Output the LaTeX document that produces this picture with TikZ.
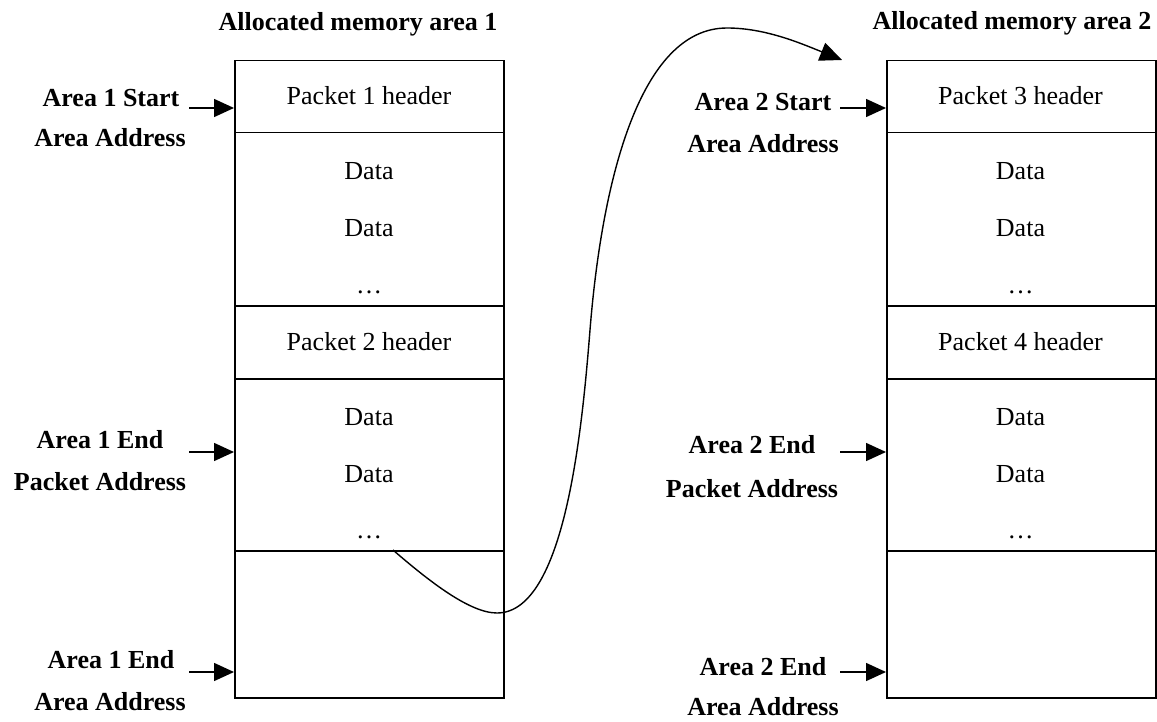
\documentclass[tikz,border=0pt]{standalone}
\usepackage{fontspec}
\setmainfont{Liberation Serif}
\usetikzlibrary{arrows.meta}
\begin{document}
\begin{tikzpicture}[x=1pt,y=-1pt,
  cell/.style={draw, line width=1.5pt, anchor=north west, inner sep=0pt, minimum width=269pt},
  txt/.style={anchor=base, inner sep=0pt, font=\fontsize{26}{30}\selectfont},
  lbl/.style={anchor=base, inner sep=0pt, font=\fontsize{26}{30}\selectfont\bfseries},
  ptr/.style={line width=1.5pt, -{Triangle[length=20pt,width=18pt]}},
  link/.style={line width=1.4pt, -{Triangle[length=22pt,width=19pt]}}
]
\useasboundingbox (0,0) rectangle (1157,722);
% titles
\node[lbl] (t1) at (358,31) {Allocated memory area 1};
\node[lbl] (t2) at (1012,30) {Allocated memory area 2};
% left box
\node[cell, minimum height=72pt]  (L1) at (234,60)  {};
\node[cell, minimum height=173pt] (L2) at (234,132) {};
\node[cell, minimum height=73pt]  (L3) at (234,305) {};
\node[cell, minimum height=172pt] (L4) at (234,378) {};
\node[cell, minimum height=147pt] (L5) at (234,550) {};
% right box
\node[cell, minimum height=72pt]  (R1) at (886,60)  {};
\node[cell, minimum height=173pt] (R2) at (886,132) {};
\node[cell, minimum height=73pt]  (R3) at (886,305) {};
\node[cell, minimum height=172pt] (R4) at (886,378) {};
\node[cell, minimum height=147pt] (R5) at (886,550) {};
% left cell texts
\node[txt] (l1t) at (369,105) {Packet 1 header};
\node[txt] (l2a) at (369,180) {Data};
\node[txt] (l2b) at (369,237) {Data};
\node[txt] (l2c) at (369,293) {\ldots};
\node[txt] (l3t) at (369,350) {Packet 2 header};
\node[txt] (l4a) at (369,425) {Data};
\node[txt] (l4b) at (369,482) {Data};
\node[txt] (l4c) at (369,538) {\ldots};
% right cell texts
\node[txt] (r1t) at (1020.5,105) {Packet 3 header};
\node[txt] (r2a) at (1020.5,180) {Data};
\node[txt] (r2b) at (1020.5,237) {Data};
\node[txt] (r2c) at (1020.5,293) {\ldots};
\node[txt] (r3t) at (1020.5,350) {Packet 4 header};
\node[txt] (r4a) at (1020.5,425) {Data};
\node[txt] (r4b) at (1020.5,482) {Data};
\node[txt] (r4c) at (1020.5,538) {\ldots};
% left labels
\node[lbl] (ls1) at (111,107) {Area 1 Start};
\node[lbl] (ls2) at (110,147) {Area Address};
\node[lbl] (lp1) at (100,448) {Area 1 End};
\node[lbl] (lp2) at (100,490) {Packet Address};
\node[lbl] (le1) at (111,668) {Area 1 End};
\node[lbl] (le2) at (110,710) {Area Address};
% right labels
\node[lbl] (rs1) at (763,111) {Area 2 Start};
\node[lbl] (rs2) at (763,153) {Area Address};
\node[lbl] (rp1) at (752,453) {Area 2 End};
\node[lbl] (rp2) at (752,497) {Packet Address};
\node[lbl] (re1) at (763,675) {Area 2 End};
\node[lbl] (re2) at (763,715) {Area Address};
% pointer arrows
\coordinate (pa1) at (189,108);
\coordinate (pa2) at (189,452);
\coordinate (pa3) at (189,672);
\coordinate (pb1) at (840,108);
\coordinate (pb2) at (840,452);
\coordinate (pb3) at (840,672);
\draw[ptr] (pa1) -- (pa1 -| L1.west);
\draw[ptr] (pa2) -- (pa2 -| L4.west);
\draw[ptr] (pa3) -- (pa3 -| L5.west);
\draw[ptr] (pb1) -- (pb1 -| R1.west);
\draw[ptr] (pb2) -- (pb2 -| R4.west);
\draw[ptr] (pb3) -- (pb3 -| R5.west);
% link curve
\coordinate (c0) at (393,550);
\coordinate (c1) at (842,60);
\draw[link] (c0) .. controls (430,582) and (470,613) .. (497,613)
  .. controls (565,613) and (582,430) .. (590,330)
  .. controls (602,180) and (640,28) .. (727,28)
  .. controls (765,28) and (800,43) .. (c1);
\end{tikzpicture}
\end{document}
